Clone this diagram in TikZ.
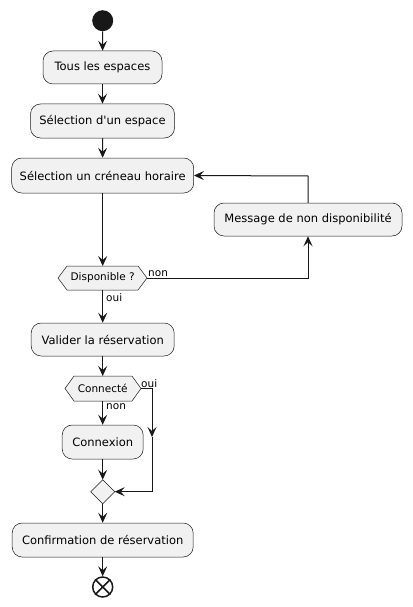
\documentclass[tikz,border=0pt]{standalone}
\usepackage{fontspec}
\setmainfont{DejaVu Sans}[Ligatures=TeXOff]
\usetikzlibrary{arrows.meta,calc}
\definecolor{boxfill}{HTML}{F1F1F1}
\definecolor{ink}{HTML}{181818}
\tikzset{
  act/.style={draw=ink, line width=0.5pt, fill=boxfill, rounded corners=10pt, inner sep=0pt, font=\fontsize{11.5}{13}\selectfont},
  declbl/.style={inner sep=0pt, font=\fontsize{10.5}{12}\selectfont},
  hexa/.style={draw=ink, line width=0.5pt, fill=boxfill},
  flow/.style={draw=ink, line width=1pt, -{Stealth[length=10pt,width=9pt,inset=4pt]}},
  edgelbl/.style={inner sep=0pt, font=\fontsize{10.5}{12}\selectfont},
}
\begin{document}
\begin{tikzpicture}[x=1pt,y=-1pt]
\useasboundingbox (0,0) rectangle (412,607);
% start
\node[circle, fill=ink, minimum size=21pt, inner sep=0pt] (start) at (102.7,20.7) {};
% actions
\node[act, minimum width=119pt, minimum height=33pt] (tous) at (102.5,67.5) {Tous les espaces};
\node[act, minimum width=144pt, minimum height=34pt] (esp) at (102.5,121) {Sélection d'un espace};
\node[act, minimum width=182pt, minimum height=35pt] (cren) at (102.7,175.5) {Sélection un créneau horaire};
\node[act, minimum width=188pt, minimum height=33pt] (msg) at (308,219.5) {Message de non disponibilité};
% decision 1
\draw[hexa] (58,278) -- (67,266) -- (138,266) -- (147,278) -- (138,290) -- (67,290) -- cycle;
\node[declbl] (d1) at (102.7,278) {Disponible ?};
\coordinate (d1e) at (147,278);
\coordinate (d1s) at (102.7,290);
\coordinate (d1n) at (102.7,266);
\node[act, minimum width=143pt, minimum height=33pt] (val) at (102.7,339.5) {Valider la réservation};
% decision 2
\draw[hexa] (65,388.5) -- (74,376) -- (132,376) -- (141,388.5) -- (132,401) -- (74,401) -- cycle;
\node[declbl] (d2) at (102.7,388.5) {Connecté};
\coordinate (d2e) at (141,388.5);
\coordinate (d2s) at (102.7,401);
\coordinate (d2n) at (102.7,376);
\node[act, minimum width=81pt, minimum height=34pt] (conx) at (102.7,442) {Connexion};
% merge
\draw[hexa] (90.7,491.7) -- (102.7,479.7) -- (114.7,491.7) -- (102.7,503.7) -- cycle;
\coordinate (mn) at (102.7,479.7);
\coordinate (me) at (114.7,491.7);
\coordinate (ms) at (102.7,503.7);
\node[act, minimum width=181pt, minimum height=34pt] (conf) at (102.7,540) {Confirmation de réservation};
% end
\node[circle, draw=ink, line width=1.5pt, fill=white, minimum size=20pt, inner sep=0pt] (stop) at (102.7,587) {};
\draw[ink, line width=1.5pt] (stop.north west) -- (stop.south east);
\draw[ink, line width=1.5pt] (stop.north east) -- (stop.south west);
% flows
\draw[flow] (start) -- (tous);
\draw[flow] (tous) -- (esp);
\draw[flow] (esp) -- (cren);
\draw[flow] (cren) -- (d1n);
\draw[flow] (d1s) -- (val) node[edgelbl, pos=0.22, right=3pt] {oui};
\draw[flow] (d1e) -- (308,278) -- (msg.south);
\node[edgelbl, anchor=south west] at (148,277) {non};
\draw[flow] (msg.north) -- (308,176) -- (cren.east);
\draw[flow] (val) -- (d2n);
\draw[flow] (d2s) -- (conx) node[edgelbl, pos=0.25, right=3pt] {non};
\node[edgelbl, anchor=south west] at (141,388) {oui};
\coordinate (ob) at (152,388.5);
\coordinate (om) at (152,437);
\coordinate (oc) at (152,491.7);
\draw[flow] (d2e) -- (ob) -- (om);
\draw[flow] (om) -- (oc) -- (me);
\draw[flow] (conx) -- (mn);
\draw[flow] (ms) -- (conf);
\draw[flow] (conf) -- (stop);
\end{tikzpicture}
\end{document}
